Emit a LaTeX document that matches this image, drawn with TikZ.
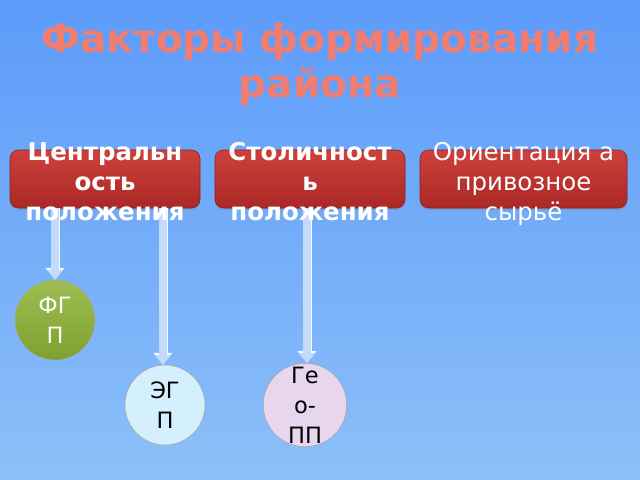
\documentclass[tikz,border=0pt]{standalone}
\usepackage{fontspec}
\setmainfont{DejaVu Sans}
\usepackage{xcolor}
\usetikzlibrary{arrows.meta,shadows}
\definecolor{bgtop}{RGB}{92,155,250}
\definecolor{bgbottom}{RGB}{140,192,248}
\definecolor{titlered}{RGB}{240,125,112}
\definecolor{boxtop}{RGB}{205,65,60}
\definecolor{boxbottom}{RGB}{170,40,38}
\definecolor{fgpgreen}{RGB}{140,178,52}
\definecolor{egpblue}{RGB}{212,240,252}
\definecolor{geolilac}{RGB}{232,214,238}
\definecolor{arrowfill}{RGB}{196,218,250}
\tikzset{
every picture/.style={x=0.025cm, y=-0.025cm, line width=0.8pt},
%%%%%%%%%%  Node styles
title/.style={text=titlered, font=\bfseries\fontsize{27.8pt}{32pt}\selectfont,
              align=center, inner sep=0pt},
factorbox/.style={rectangle, rounded corners=6pt, top color=boxtop,
                  bottom color=boxbottom, draw=boxbottom!80!black, thin,
                  minimum width=190*0.025cm, minimum height=58*0.025cm,
                  drop shadow={opacity=0.3, shadow xshift=0pt, shadow yshift=-1.5pt}},
factortext/.style={text=white, align=center, inner sep=0pt,
                   font=\fontsize{17.4pt}{21.3pt}\selectfont},
circnode/.style={circle, draw=black!35, thin, minimum size=80*0.025cm,
                 inner sep=0pt, align=center,
                 font=\fontsize{16pt}{21.3pt}\selectfont},
%%%% block arrows
blockarrow/.style={line width=5pt, draw=arrowfill,
                   -{Triangle[width=11pt,length=7pt]},
                   preaction={draw=white!85!arrowfill, line width=6.4pt,
                              -{Triangle[width=13pt,length=8.5pt]}}}
}
\begin{document}
\begin{tikzpicture}
%%background
\shade[top color=bgtop, bottom color=bgbottom] (0,0) rectangle (640,480);
\useasboundingbox (0,0) rectangle (640,480);
%%title
\node[title, anchor=base] (head) at (320,97) {Факторы формирования\\района};
%%factor boxes
\node[factorbox] (cen) at (105,179) {};
\node[factorbox] (cap) at (310,179) {};
\node[factorbox, minimum width=207*0.025cm] (ori) at (523.5,179) {};
%%circles
\node[circnode, top color=fgpgreen!85!white, bottom color=fgpgreen!90!black,
      text=white] (fgp) at (55,320) {ФГ\\П};
\node[circnode, fill=egpblue] (egp) at (165,405) {ЭГ\\П};
\node[circnode, fill=geolilac] (geo) at (305,405) {Ге\\о-\\ПП};
%%arrows
\draw[blockarrow] (fgp.north |- cen.south) -- (fgp.north);
\draw[blockarrow] (163,208) -- (egp.north -| 163,0);
\draw[blockarrow] (307,208) -- (geo.north -| 307,0);
%%box texts
\node[factortext, anchor=base] (cent) at (105,220) {\bfseries Центральн\\\bfseries ость\\\bfseries положения};
\node[factortext, anchor=base] (capt) at (310,220) {\bfseries Столичност\\\bfseries ь\\\bfseries положения};
\node[factortext, anchor=base] (orit) at (523.5,220) {Ориентация а\\привозное\\сырьё};
\end{tikzpicture}
\end{document}
